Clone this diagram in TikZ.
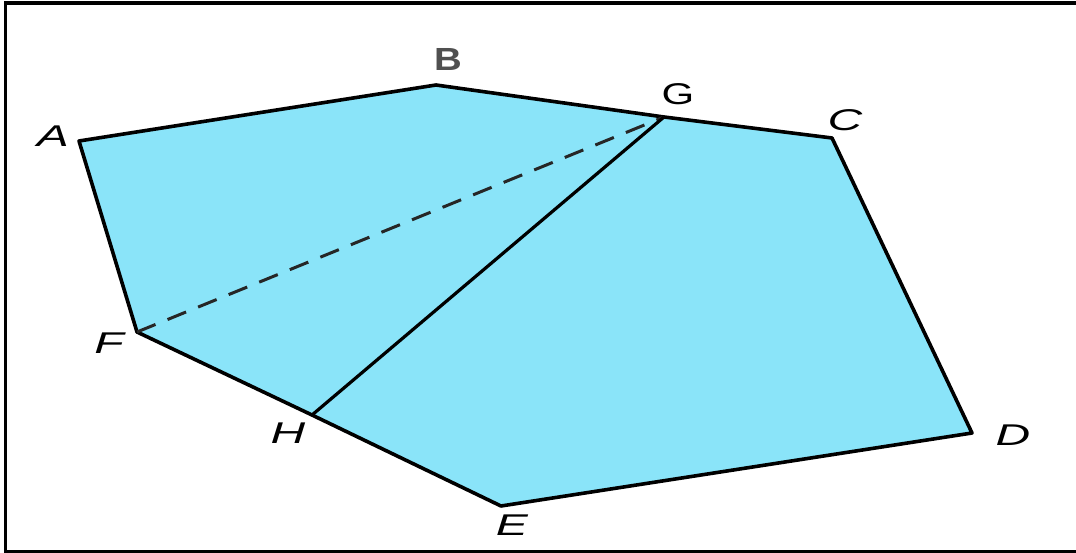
\documentclass[tikz,border=0pt]{standalone}
\usepackage{fontspec}
\usepackage{graphicx}
\setmainfont{Liberation Sans}
\definecolor{fillblue}{RGB}{138,228,249}
\definecolor{labgray}{RGB}{80,80,80}
\tikzset{
  edge/.style={line width=3.6pt, line join=round, line cap=round},
  lab/.style={inner sep=0pt, font=\fontsize{30}{30}\selectfont\itshape},
  labup/.style={inner sep=0pt, font=\fontsize{30}{30}\selectfont},
  frame/.style={line width=3.2pt, black}
}
\newcommand{\wl}[1]{\scalebox{1.6}[1]{#1}}
\begin{document}
\begin{tikzpicture}[x=1pt,y=-1pt]
\useasboundingbox (0,0) rectangle (1076,553);
\fill[white] (0,0) rectangle (1076,553);
% frame
\draw[frame] (5.5,553) -- (5.5,3) -- (1076,3);
\draw[frame] (5.5,552) -- (1076,552);
% vertices
\coordinate (A) at (79,141);
\coordinate (B) at (436,85);
\coordinate (G) at (664,117);
\coordinate (C) at (832,138);
\coordinate (D) at (972,433);
\coordinate (E) at (501,506);
\coordinate (H) at (312,415);
\coordinate (F) at (137,332);
\fill[fillblue] (A) -- (B) -- (G) -- (C) -- (D) -- (E) -- (H) -- (F) -- cycle;
\draw[edge] (A) -- (B) -- (G) -- (C) -- (D) -- (E) -- (H) -- (F) -- cycle;
\draw[line width=3pt, dash pattern=on 20pt off 13pt, white!15!black] (F) -- (G);
\draw[line width=3.2pt] (H) -- (G);
% labels
\node[lab] (lA) at (53,136) {\wl{A}};
\node[labup, font=\fontsize{32}{32}\selectfont\bfseries, text=labgray] (lB) at (448,59) {\scalebox{1.2}[1]{B}};
\node[labup] (lG) at (678,94) {\scalebox{1.4}[1]{G}};
\node[lab] (lC) at (845,120) {\wl{C}};
\node[lab] (lD) at (1013,435) {\wl{D}};
\node[lab] (lE) at (512,525) {\wl{E}};
\node[lab] (lH) at (288,433) {\wl{H}};
\node[lab] (lF) at (109,343) {\wl{F}};
\end{tikzpicture}
\end{document}
